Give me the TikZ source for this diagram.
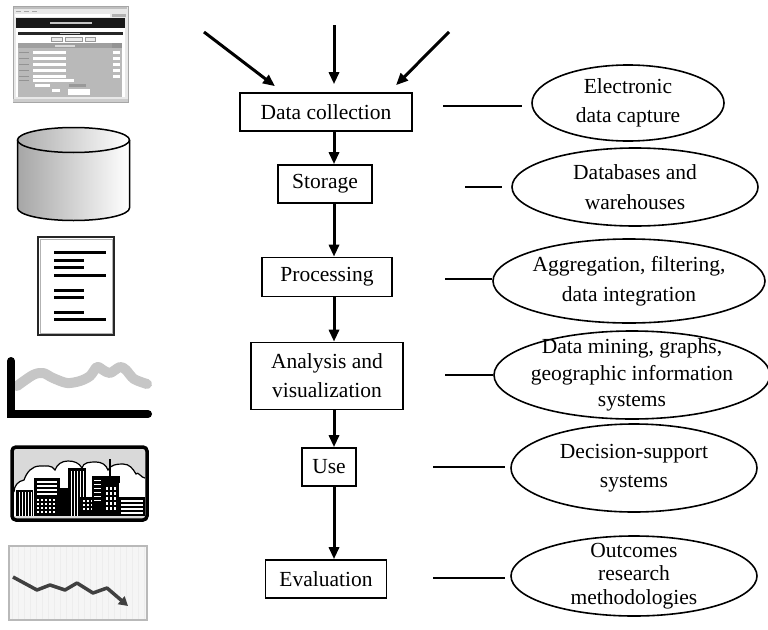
\documentclass[tikz,border=0pt]{standalone}
\usepackage{fontspec}
\setmainfont{Liberation Serif}
\usetikzlibrary{shapes.geometric,arrows.meta,calc}

\begin{document}
\begin{tikzpicture}[x=1pt,y=-1pt,
  stage/.style={draw=black, line width=1.6pt, inner sep=0pt, align=center,
    font=\fontsize{21.5}{29}\selectfont},
  oval/.style={draw=black, ellipse, line width=1.6pt, inner sep=0pt},
  ovaltext/.style={align=center, inner sep=0pt},
  flow/.style={line width=3pt, -{Triangle[length=12pt,width=10pt]}},
  link/.style={line width=2.6pt},
  bar/.style={line width=3pt},
]
\useasboundingbox (0,0) rectangle (768,629);

% ---------- pipeline stages ----------
\node[stage, minimum width=172, minimum height=38] (collect) at (326,112) {Data collection};
\node[stage, minimum width=94,  minimum height=38] (store)   at (325,184) {Storage};
\node[stage, minimum width=130, minimum height=39] (proc)    at (327,277) {Processing};
\node[stage, minimum width=152, minimum height=67] (anal)    at (327,376) {Analysis and\\visualization};
\node[stage, minimum width=54,  minimum height=38] (use)     at (329,467) {Use};
\node[stage, minimum width=121, minimum height=38] (eval)    at (326,579) {Evaluation};

\coordinate (spine) at (334,0);
\draw[flow] (collect.south -| spine) -- (store.north -| spine);
\draw[flow] (store.south -| spine) -- (proc.north -| spine);
\draw[flow] (proc.south -| spine) -- (anal.north -| spine);
\draw[flow] (anal.south -| spine) -- (use.north -| spine);
\draw[flow] (use.south -| spine) -- (eval.north -| spine);

% incoming data streams
\coordinate (inL) at (204,32);
\coordinate (inM) at (334,25);
\coordinate (inR) at (449,32);
\draw[flow] (inL) -- ($(collect.north)+(-51,-6)$);
\draw[flow] (inM) -- ($(collect.north)+(8,-8)$);
\draw[flow] (inR) -- ($(collect.north)+(70,-7)$);

% ---------- supporting technologies ----------
\node[oval, minimum width=192, minimum height=76] (e1) at (628,103) {};
\node[ovaltext, font=\fontsize{21.5}{29}\selectfont] at (e1) {Electronic\\data capture};
\node[oval, minimum width=246, minimum height=78] (e2) at (635,187) {};
\node[ovaltext, font=\fontsize{21.5}{30}\selectfont] at (e2) {Databases and\\warehouses};
\node[oval, minimum width=272, minimum height=84] (e3) at (629,281) {};
\node[ovaltext, font=\fontsize{21.5}{30}\selectfont] at (e3) {Aggregation, filtering,\\data integration};
\node[oval, minimum width=276, minimum height=88] (e4) at (632,375) {};
\node[ovaltext, font=\fontsize{21.5}{26.5}\selectfont] at (e4) {Data mining, graphs,\\geographic information\\systems};
\node[oval, minimum width=246, minimum height=88] (e5) at (634,468) {};
\node[ovaltext, font=\fontsize{21.5}{29}\selectfont] at (e5) {Decision-support\\systems};
\node[oval, minimum width=246, minimum height=80] (e6) at (634,576) {};
\node[ovaltext, font=\fontsize{21.5}{23.5}\selectfont] at (e6) {Outcomes\\research\\methodologies};

\coordinate (t1) at (443,106);
\coordinate (t2) at (465,187);
\coordinate (t3) at (445,279);
\coordinate (t4) at (445,375);
\coordinate (t5) at (433,467);
\coordinate (t6) at (433,578);
\draw[link, shorten >=9pt] (t1) -- (t1 -| e1.west);
\draw[link, shorten >=9pt] (t2) -- (t2 -| e2.west);
\draw[link] (t3) -- (t3 -| e3.west);
\draw[link] (t4) -- (t4 -| e4.west);
\draw[link, shorten >=5pt] (t5) -- (t5 -| e5.west);
\draw[link, shorten >=5pt] (t6) -- (t6 -| e6.west);

% ---------- icon: web form ----------
\fill[gray!18] (13,6) rectangle (128,102);
\draw[gray!70, line width=0.6pt] (13,6) rectangle (128,102);
\fill[gray!50] (14,7) rectangle (127,9);
\foreach \x in {16,24,32} \fill[gray!70] (\x,10.5) rectangle ++(5,1.5);
\fill[white] (15,13.5) rectangle (110,16.5);
\fill[gray!60] (112,13.5) rectangle (126,16.5);
\fill[black!90] (16,17.5) rectangle (125,28);
\fill[gray!45] (50,21.5) rectangle (92,23.5);
\fill[white] (16,28) rectangle (125,97);
\fill[black!85] (18,32) rectangle (123,34.5);
\fill[gray!50] (60,32.5) rectangle (80,34);
\foreach \a/\b in {51/62,65/82,85/95}
  \draw[gray!80, line width=0.4pt, fill=gray!15] (\a,37) rectangle (\b,41.5);
\fill[gray!55] (18,43) rectangle (122,97);
\fill[gray!75] (18,43) rectangle (112,48);
\fill[gray!30] (55,45) rectangle (75,46.5);
\fill[gray!85] (112,43) rectangle (122,48);
\foreach \y in {51,57,63,69,75} {
  \fill[white] (33,\y) rectangle ++(33,3);
  \fill[gray!85] (19,\y+0.5) rectangle ++(10,1.5);
  \fill[white] (113,\y) rectangle ++(7,3);
}
\fill[white] (33,79) rectangle (74,82);
\fill[gray!85] (19,79.5) rectangle ++(10,1.5);
\fill[white] (35,84) rectangle (50,87);
\fill[gray!80] (69,84) rectangle (86,87);
\fill[white] (52,89) rectangle (60,92);
\fill[white] (68,89) rectangle (90,95);
\fill[gray!40] (13,98.5) rectangle (128,102);

% ---------- icon: database ----------
\shade[left color=gray!70, right color=white] (17.5,140) -- (17.5,208)
  arc[start angle=180, end angle=0, x radius=56, y radius=12.5] -- (129.5,140) -- cycle;
\draw[line width=1.5pt] (17.5,140) -- (17.5,208)
  arc[start angle=180, end angle=0, x radius=56, y radius=12.5] -- (129.5,140);
\shade[left color=gray!65, right color=white]
  (73.5,140) ellipse[x radius=56, y radius=12.5];
\draw[line width=1.5pt] (73.5,140) ellipse[x radius=56, y radius=12.5];

% ---------- icon: report ----------
\draw[line width=1.6pt, draw=black!85, fill=white] (38,237) rectangle (114,335);
\draw[gray!60, line width=0.5pt] (40,239) rectangle (112,333);
\foreach \y in {252,275,319} \draw[bar] (54,\y) -- (106,\y);
\foreach \y in {260,267,290,297,312} \draw[bar] (54,\y) -- (84,\y);

% ---------- icon: time series ----------
\draw[gray!45, line width=10pt, line cap=round, line join=round]
  plot[smooth, tension=0.5] coordinates {(17,386) (33,375) (43,373) (53,378) (67,383)
  (80,381) (90,376) (97,367) (103,370) (110,373) (120,367) (126,370) (134,379) (147,384)};
\draw[line width=8pt, line cap=round] (11,361) -- (11,414) -- (148,414);

% ---------- icon: city ----------
\begin{scope}
\clip[rounded corners=4pt] (12,447) rectangle (147,520);
\fill[gray!30] (12,447) rectangle (147,520);
\fill[white] (14,492) to[out=90,in=190] (24,480) to[out=70,in=180] (40,466)
  to[out=0,in=120] (55,470) to[out=70,in=180] (68,461) to[out=0,in=120] (82,468)
  to[out=80,in=180] (96,462) to[out=0,in=110] (108,470) to[out=60,in=180] (123,464)
  to[out=0,in=120] (136,474) to[out=60,in=180] (145,478) -- (145,516) -- (14,516) -- cycle;
\draw[line width=1.2pt] (14,492) to[out=90,in=190] (24,480) to[out=70,in=180] (40,466)
  to[out=0,in=120] (55,470) to[out=70,in=180] (68,461) to[out=0,in=120] (82,468)
  to[out=80,in=180] (96,462) to[out=0,in=110] (108,470) to[out=60,in=180] (123,464)
  to[out=0,in=120] (136,474) to[out=60,in=180] (145,478);
% buildings
\fill (16,490) rectangle (33,516);
\foreach \x in {19,22,25,28,31} \draw[white, line width=1pt] (\x,492) -- (\x,516);
\fill (34,478) rectangle (60,516);
\foreach \y in {482,486,490,494} \draw[white, line width=1.2pt] (37,\y) -- (57,\y);
\foreach \x in {37,41,45,49,53} \foreach \y in {499,503,507,511} \fill[white] (\x,\y) rectangle ++(2,2);
\fill (60,488) rectangle (68,516);
\fill (68,468) rectangle (86,516);
\foreach \x in {71,74,77,80,83} \draw[white, line width=1pt] (\x,471) -- (\x,516);
\fill (80,497) rectangle (96,516);
\foreach \x in {83,87,91} \foreach \y in {500,504,508} \fill[white] (\x,\y) rectangle ++(2.2,2.2);
\fill (92,476) rectangle (103,516);
\foreach \y in {480,484,488,492,496,500} \draw[white, line width=1pt] (94,\y) -- (101,\y);
\draw[line width=1.5pt] (110,459) -- (110,478);
\fill (101,476) rectangle (120,483);
\fill (103,483) rectangle (119,516);
\foreach \x in {106,110,114} \foreach \y in {487,492,497,502,507} \fill[white] (\x,\y) rectangle ++(2.2,2.5);
\fill (119,497) rectangle (145,516);
\foreach \y in {501,505,509,513} \draw[white, line width=1.2pt] (121,\y) -- (143,\y);
\end{scope}
\draw[line width=3.5pt, rounded corners=4pt] (12,447) rectangle (147,520);

% ---------- icon: declining trend ----------
\fill[gray!8] (9,546) rectangle (147,620);
\draw[gray!14, line width=0.3pt, step=6] (9,546) grid (147,620);
\draw[gray!55, line width=2.5pt] (9,546) rectangle (147,620);
\draw[black!75, line width=3.5pt, line join=round, -{Triangle[length=9pt,width=10pt]}]
  (13,577) -- (37,590) -- (50,585) -- (65,590) -- (77,583) -- (93,593) -- (107,588) -- (128,606);
\end{tikzpicture}
\end{document}
